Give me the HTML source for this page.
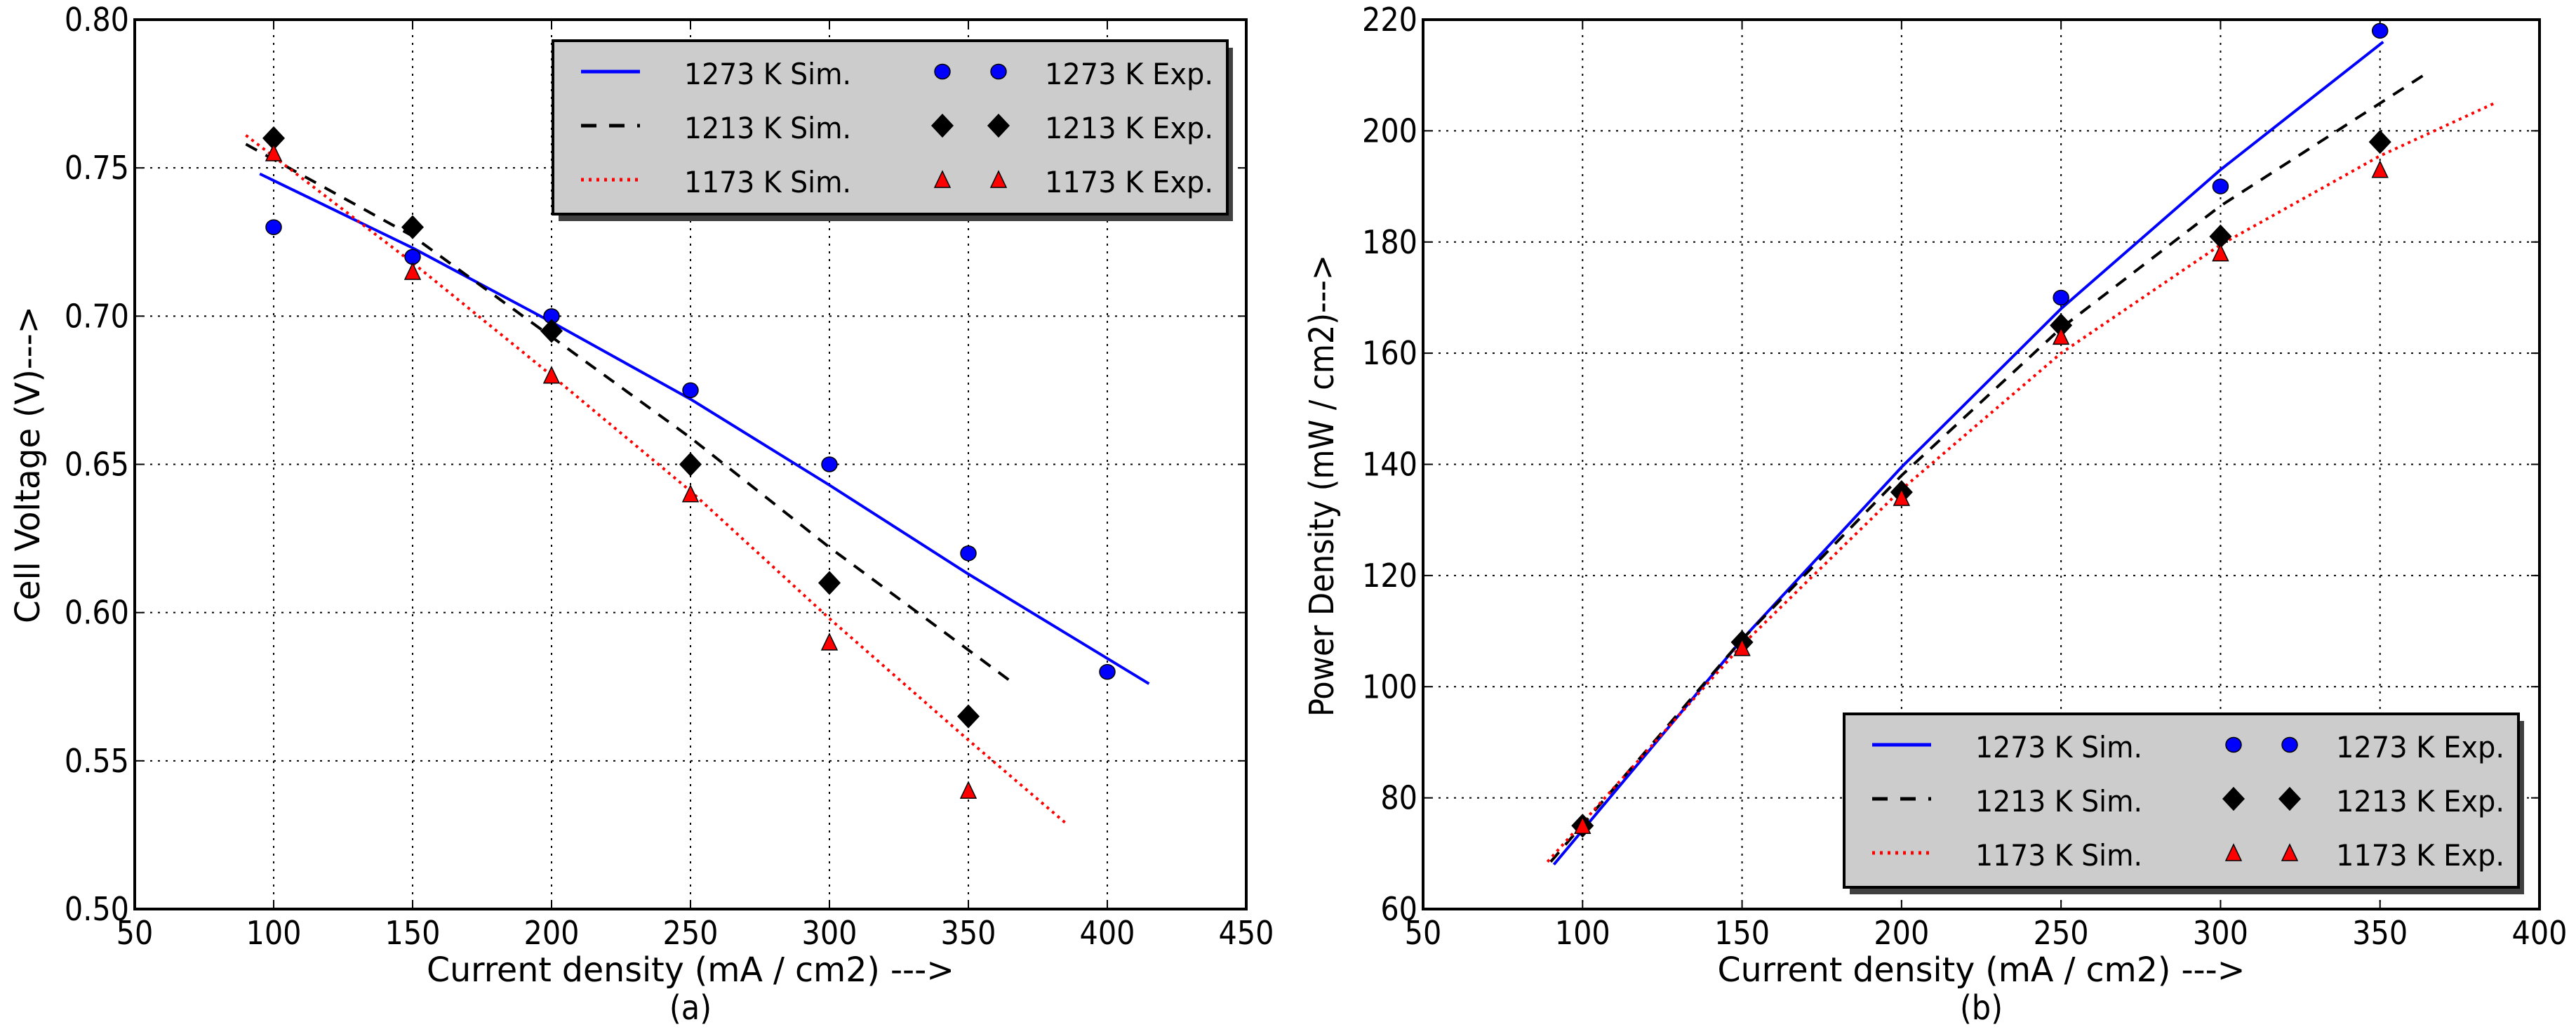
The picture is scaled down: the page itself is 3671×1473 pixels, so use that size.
<!DOCTYPE html>
<html><head><meta charset="utf-8">
<style>
html,body{margin:0;padding:0;background:#fff;}
svg{display:block;}
text{font-family:"DejaVu Sans Condensed","Liberation Sans Narrow","DejaVu Sans","Liberation Sans",sans-serif;fill:#000;}
</style></head>
<body>
<svg id="fig" xmlns="http://www.w3.org/2000/svg" width="3671" height="1473" viewBox="0 0 3671 1473"></svg>
<script>
// ---- Chart (a): Cell voltage ----
const aXTicks = [50,100,150,200,250,300,350,400,450];
const aYTicks = [0.50,0.55,0.60,0.65,0.70,0.75,0.80];
const aYTickLabels = ["0.50","0.55","0.60","0.65","0.70","0.75","0.80"];
const aSim1273X = [95,150,200,250,300,350,415];
const aSim1273Y = [0.748,0.723,0.698,0.672,0.643,0.613,0.576];
const aSim1213X = [90,150,200,250,300,365];
const aSim1213Y = [0.758,0.727,0.693,0.659,0.622,0.577];
const aSim1173X = [90,150,200,250,300,350,385];
const aSim1173Y = [0.761,0.718,0.680,0.641,0.598,0.557,0.529];
const aExp1273X = [100,150,200,250,300,350,400];
const aExp1273Y = [0.73,0.72,0.70,0.675,0.65,0.62,0.58];
const aExp1213X = [100,150,200,250,300,350];
const aExp1213Y = [0.76,0.73,0.695,0.65,0.61,0.565];
const aExp1173X = [100,150,200,250,300,350];
const aExp1173Y = [0.755,0.715,0.68,0.64,0.59,0.54];
// ---- Chart (b): Power density ----
const bXTicks = [50,100,150,200,250,300,350,400];
const bYTicks = [60,80,100,120,140,160,180,200,220];
const bSim1273X = [91,150,200,250,300,351];
const bSim1273Y = [68,108.5,139.5,168,193,216];
const bSim1213X = [90,150,200,250,300,365];
const bSim1213Y = [68.5,108.5,138,164.5,186.5,210.5];
const bSim1173X = [89,150,200,250,300,350,386];
const bSim1173Y = [68.5,107.5,135.5,160,179.5,195.5,205];
const bExp1273X = [100,150,200,250,300,350];
const bExp1273Y = [75,108,135,170,190,218];
const bExp1213X = [100,150,200,250,300,350];
const bExp1213Y = [75,108,135,165,181,198];
const bExp1173X = [100,150,200,250,300,350];
const bExp1173Y = [75,107,134,163,178,193];

const NS="http://www.w3.org/2000/svg";
const svg=document.getElementById('fig');
function mk(tag,attrs,parent){const e=document.createElementNS(NS,tag);for(const k in attrs)e.setAttribute(k,attrs[k]);(parent||svg).appendChild(e);return e;}

function marker(g,type,cx,cy){
  let e;
  if(type==='circle') e=mk('ellipse',{cx:cx,cy:cy,rx:11,ry:10.5,fill:'#0000ff',stroke:'#000','stroke-width':1.5},g);
  else if(type==='diamond') e=mk('polygon',{points:`${cx},${cy-16} ${cx+15},${cy} ${cx},${cy+16} ${cx-15},${cy}`,fill:'#000',stroke:'#000','stroke-width':1.5},g);
  else e=mk('polygon',{points:`${cx},${cy-12} ${cx+11},${cy+11} ${cx-11},${cy+11}`,fill:'#ff0000',stroke:'#000','stroke-width':1.5},g);
  return e;
}

function chart(cfg){
  const g=mk('g',{});
  
  
  const L=cfg.left,R=cfg.right,T=28,B=1295;
  const sx=v=>L+(v-cfg.xmin)/(cfg.xmax-cfg.xmin)*(R-L);
  const sy=v=>B-(v-cfg.ymin)/(cfg.ymax-cfg.ymin)*(B-T);
  cfg.xt.forEach(v=>{
    const l=mk('line',{x1:sx(v),x2:sx(v),y1:T,y2:B,stroke:'#000','stroke-width':2,'stroke-dasharray':'3,8'},g);
    
    
    mk('line',{x1:sx(v),x2:sx(v),y1:B,y2:B-12,stroke:'#000','stroke-width':2},g);
    mk('line',{x1:sx(v),x2:sx(v),y1:T,y2:T+12,stroke:'#000','stroke-width':2},g);
    const t=mk('text',{x:sx(v),y:1345,'font-size':46,'text-anchor':'middle'},g);
    t.textContent=String(v);
    
    
  });
  cfg.yt.forEach((v,i)=>{
    const l=mk('line',{x1:L,x2:R,y1:sy(v),y2:sy(v),stroke:'#000','stroke-width':2,'stroke-dasharray':'3,8'},g);
    
    
    mk('line',{x1:L,x2:L+12,y1:sy(v),y2:sy(v),stroke:'#000','stroke-width':2},g);
    mk('line',{x1:R,x2:R-12,y1:sy(v),y2:sy(v),stroke:'#000','stroke-width':2},g);
    const t=mk('text',{x:L-8,y:sy(v)+16,'font-size':46,'text-anchor':'end'},g);
    t.textContent=cfg.ytl?cfg.ytl[i]:String(v);
    
    
  });
  const lines=[[cfg.s1x,cfg.s1y,'#0000ff','','sim-1273-line'],[cfg.s2x,cfg.s2y,'#000','18,14','sim-1213-line'],[cfg.s3x,cfg.s3y,'#ff0000','4,6','sim-1173-line']];
  lines.forEach(s=>{
    const pts=s[0].map((x,i)=>sx(x)+','+sy(s[1][i])).join(' ');
    const p=mk('polyline',{points:pts,fill:'none',stroke:s[2],'stroke-width':4,'stroke-dasharray':s[3]||'none','stroke-linejoin':'round'},g);
    
    
  });
  const pts=[[cfg.e1x,cfg.e1y,'circle','exp-1273-point'],[cfg.e2x,cfg.e2y,'diamond','exp-1213-point'],[cfg.e3x,cfg.e3y,'triangle','exp-1173-point']];
  pts.forEach(s=>{
    s[0].forEach((x,i)=>{
      const m=marker(g,s[2],sx(x),sy(s[1][i]));
      
      
    });
  });
  const f=mk('rect',{x:L,y:T,width:R-L,height:B-T,fill:'none',stroke:'#000','stroke-width':4},g);
  
  
  const lg=mk('g',{},g);
  
  
  const lx=cfg.lx,ly=cfg.ly,lw=961,lh=247;
  mk('rect',{x:lx+8,y:ly+10,width:lw,height:lh,fill:'#404040'},lg);
  mk('rect',{x:lx,y:ly,width:lw,height:lh,fill:'#cccccc',stroke:'#000','stroke-width':4},lg);
  const rows=[['1273 K Sim.','1273 K Exp.','#0000ff','','circle'],['1213 K Sim.','1213 K Exp.','#000','22,18','diamond'],['1173 K Sim.','1173 K Exp.','#ff0000','4,7','triangle']];
  rows.forEach((r,i)=>{
    const cy=ly+44+i*77;
    mk('line',{x1:lx+40,x2:lx+124,y1:cy,y2:cy,stroke:r[2],'stroke-width':5,'stroke-dasharray':r[3]||'none'},lg);
    const t1=mk('text',{x:lx+187,y:cy+18,'font-size':42,textLength:238,lengthAdjust:'spacingAndGlyphs'},lg);
    t1.textContent=r[0];
    
    
    marker(lg,r[4],lx+555,cy);
    marker(lg,r[4],lx+635,cy);
    const t2=mk('text',{x:lx+701,y:cy+18,'font-size':42,textLength:240,lengthAdjust:'spacingAndGlyphs'},lg);
    t2.textContent=r[1];
    
    
  });
  const cx=(L+R)/2;
  const xl=mk('text',{x:cx,y:1398,'font-size':48,'text-anchor':'middle',textLength:752,lengthAdjust:'spacingAndGlyphs'},g);
  xl.textContent='Current density (mA / cm2) --->';
  
  
  const sub=mk('text',{x:cx,y:1452,'font-size':48,'text-anchor':'middle'},g);
  sub.textContent=cfg.sub;
  
  
  const yl=mk('text',{x:0,y:0,'font-size':48,'text-anchor':'middle',textLength:cfg.ylw,lengthAdjust:'spacingAndGlyphs',transform:`translate(${cfg.ylx},${cfg.ylc}) rotate(-90)`},g);
  yl.textContent=cfg.ylabel;
  
  
}

chart({name:'cell-voltage-chart',left:192,right:1776,xmin:50,xmax:450,ymin:0.5,ymax:0.8,xt:aXTicks,yt:aYTicks,ytl:aYTickLabels,
  s1x:aSim1273X,s1y:aSim1273Y,s2x:aSim1213X,s2y:aSim1213Y,s3x:aSim1173X,s3y:aSim1173Y,
  e1x:aExp1273X,e1y:aExp1273Y,e2x:aExp1213X,e2y:aExp1213Y,e3x:aExp1173X,e3y:aExp1173Y,
  lx:788,ly:58,sub:'(a)',ylabel:'Cell Voltage (V)--->',ylx:56,ylc:662,ylw:452});
chart({name:'power-density-chart',left:2028,right:3619,xmin:50,xmax:400,ymin:60,ymax:220,xt:bXTicks,yt:bYTicks,
  s1x:bSim1273X,s1y:bSim1273Y,s2x:bSim1213X,s2y:bSim1213Y,s3x:bSim1173X,s3y:bSim1173Y,
  e1x:bExp1273X,e1y:bExp1273Y,e2x:bExp1213X,e2y:bExp1213Y,e3x:bExp1173X,e3y:bExp1173Y,
  lx:2628,ly:1017,sub:'(b)',ylabel:'Power Density (mW / cm2)--->',ylx:1900,ylc:692,ylw:658});
</script>
</body></html>
